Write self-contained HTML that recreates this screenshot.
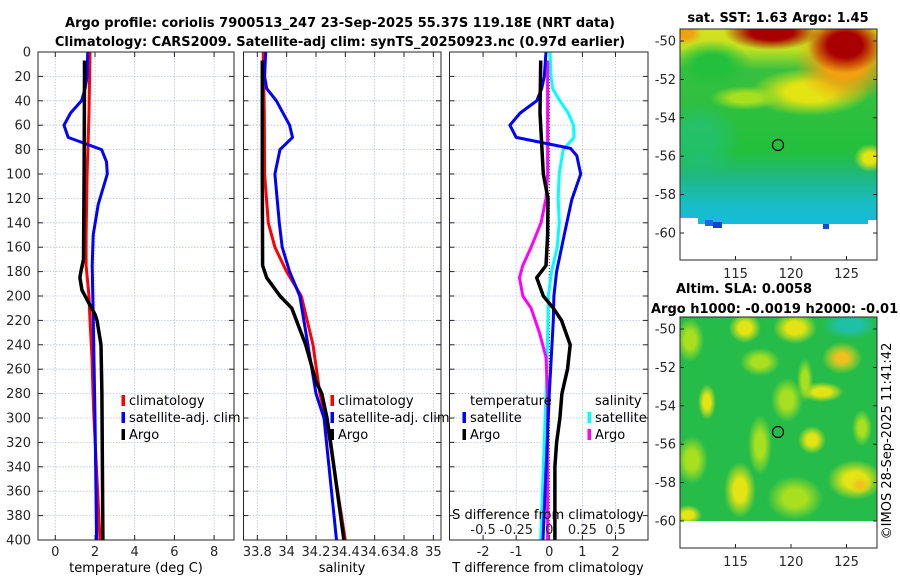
<!DOCTYPE html>
<html><head><meta charset="utf-8"><style>
body{margin:0;background:#fff;}
svg{display:block;font-family:"DejaVu Sans","Liberation Sans",sans-serif;}
.tk{font-size:13px;fill:#262626;}
.tt{font-size:13px;font-weight:bold;fill:#000;}
.lg{font-size:13px;fill:#000;}
</style></head><body>
<svg id="fig" width="900" height="580" viewBox="0 0 900 580">
<defs>
<radialGradient id="gRed"><stop offset="0.45" stop-color="#a80000"/><stop offset="1" stop-color="#a80000" stop-opacity="0"/></radialGradient>
<radialGradient id="gOr"><stop offset="0.4" stop-color="#f0a010"/><stop offset="1" stop-color="#f0a010" stop-opacity="0"/></radialGradient>
<radialGradient id="gYel"><stop offset="0.4" stop-color="#e4e414"/><stop offset="1" stop-color="#e4e414" stop-opacity="0"/></radialGradient>
<radialGradient id="gYG"><stop offset="0.4" stop-color="#a8e020"/><stop offset="1" stop-color="#a8e020" stop-opacity="0"/></radialGradient>
<radialGradient id="gTeal"><stop offset="0.4" stop-color="#20c0a8"/><stop offset="1" stop-color="#20c0a8" stop-opacity="0"/></radialGradient>
<radialGradient id="gGreen"><stop offset="0.4" stop-color="#22c03c"/><stop offset="1" stop-color="#22c03c" stop-opacity="0"/></radialGradient>
<radialGradient id="gOrY"><stop offset="0.3" stop-color="#f0c020"/><stop offset="1" stop-color="#e8e010" stop-opacity="0"/></radialGradient>
<linearGradient id="sstBase" x1="0" y1="0" x2="0" y2="1">
<stop offset="0" stop-color="#d8e020"/><stop offset="0.1" stop-color="#c0e020"/><stop offset="0.2" stop-color="#38c040"/>
<stop offset="0.6" stop-color="#22c03c"/><stop offset="0.72" stop-color="#20b880"/><stop offset="0.86" stop-color="#18bcc8"/><stop offset="1" stop-color="#14bce0"/>
</linearGradient>
<clipPath id="cp1"><rect x="38" y="52" width="196" height="488"/></clipPath>
<clipPath id="cp2"><rect x="243.5" y="52" width="197.5" height="488"/></clipPath>
<clipPath id="cp3"><rect x="449.5" y="52" width="198.5" height="488"/></clipPath>
<clipPath id="cm1"><rect x="680" y="29" width="197" height="205"/></clipPath>
<clipPath id="cm2"><rect x="680" y="317" width="197" height="204"/></clipPath>
</defs>
<text class="tt" x="340" y="27" text-anchor="middle">Argo profile: coriolis 7900513_247 23-Sep-2025 55.37S 119.18E (NRT data)</text>
<text class="tt" x="340" y="46" text-anchor="middle">Climatology: CARS2009. Satellite-adj clim: synTS_20250923.nc (0.97d earlier)</text>

<g>
<text class="tt" x="778" y="22" text-anchor="middle">sat. SST: 1.63 Argo: 1.45</text>
<g clip-path="url(#cm1)">
<rect x="680" y="29" width="197" height="205" fill="url(#sstBase)"/>
<ellipse cx="712" cy="65" rx="40" ry="25" fill="url(#gGreen)"/>
<ellipse cx="700" cy="140" rx="40" ry="40" fill="url(#gTeal)" opacity="0.4"/>
<ellipse cx="810" cy="92" rx="60" ry="24" fill="url(#gYel)"/>
<ellipse cx="745" cy="98" rx="35" ry="12" fill="url(#gYG)"/>
<ellipse cx="870" cy="158" rx="16" ry="14" fill="url(#gYel)"/>
<ellipse cx="845" cy="62" rx="50" ry="42" fill="url(#gOr)"/>
<ellipse cx="772" cy="32" rx="48" ry="18" fill="url(#gRed)"/>
<ellipse cx="845" cy="45" rx="38" ry="28" fill="url(#gRed)"/>
<ellipse cx="686" cy="33" rx="16" ry="12" fill="url(#gOr)"/>
<rect x="680" y="224" width="197" height="10" fill="#fff"/>
<rect x="680" y="218" width="18" height="6" fill="#fff"/>
<rect x="705" y="220" width="8" height="6" fill="#1070e0"/>
<rect x="713" y="222" width="9" height="6" fill="#0848d0"/>
<rect x="823" y="224" width="6" height="5" fill="#1050d8"/>
<rect x="868" y="220" width="9" height="6" fill="#fff"/>
<circle cx="778" cy="145" r="5.5" fill="none" stroke="#000" stroke-width="1.2"/>
</g>
<rect x="680" y="29" width="197" height="231" fill="none" stroke="#262626" stroke-width="1"/>
<g id="m1ax"></g>
</g>

<g>
<text class="tt" x="744" y="293" text-anchor="middle">Altim. SLA: 0.0058</text>
<text class="tt" x="651" y="313">Argo h1000: -0.0019 h2000: -0.01</text>
<g clip-path="url(#cm2)">
<rect x="680" y="317" width="197" height="204" fill="#26bc4a"/>
<ellipse cx="690" cy="340" rx="14" ry="22" fill="url(#gYG)"/>
<ellipse cx="745" cy="328" rx="16" ry="15" fill="url(#gYel)"/>
<ellipse cx="795" cy="328" rx="22" ry="16" fill="url(#gYel)"/>
<ellipse cx="850" cy="325" rx="28" ry="14" fill="url(#gTeal)"/>
<ellipse cx="842" cy="358" rx="20" ry="16" fill="url(#gOrY)"/>
<ellipse cx="822" cy="392" rx="22" ry="10" fill="url(#gYel)"/>
<ellipse cx="787" cy="400" rx="16" ry="22" fill="url(#gYG)"/>
<ellipse cx="805" cy="380" rx="8" ry="22" fill="url(#gYG)"/>
<ellipse cx="707" cy="402" rx="9" ry="18" fill="url(#gYel)"/>
<ellipse cx="812" cy="440" rx="14" ry="14" fill="url(#gYel)"/>
<ellipse cx="692" cy="460" rx="16" ry="24" fill="url(#gYG)"/>
<ellipse cx="740" cy="490" rx="16" ry="28" fill="url(#gYel)"/>
<ellipse cx="795" cy="498" rx="28" ry="22" fill="url(#gYG)"/>
<ellipse cx="855" cy="480" rx="28" ry="20" fill="url(#gYel)"/>
<ellipse cx="860" cy="485" rx="12" ry="9" fill="url(#gOrY)"/>
<ellipse cx="760" cy="445" rx="12" ry="30" fill="url(#gYG)"/>
<ellipse cx="862" cy="428" rx="10" ry="18" fill="url(#gYG)"/>
<ellipse cx="688" cy="515" rx="14" ry="10" fill="url(#gYel)"/>
<ellipse cx="760" cy="362" rx="20" ry="14" fill="url(#gYG)"/>
<circle cx="778" cy="432" r="5.5" fill="none" stroke="#000" stroke-width="1.2"/>
</g>
<rect x="680" y="317" width="197" height="231" fill="none" stroke="#262626" stroke-width="1"/>
<g id="m2ax"></g>
</g>
<text class="lg" x="0" y="0" transform="translate(891,441) rotate(-90)" text-anchor="middle">©IMOS 28-Sep-2025 11:41:42</text>

<g id="panels"></g>
</svg>
<script>
const depthTicks=[0,20,40,60,80,100,120,140,160,180,200,220,240,260,280,300,320,340,360,380,400];
const tempTicks=[0,2,4,6,8];
const salTicks=[33.8,34,34.2,34.4,34.6,34.8,35];
const salTickLabels=["33.8","34","34.2","34.4","34.6","34.8","35"];
const dtTicks=[-2,-1,0,1,2];
const dsTicks=[-0.5,-0.25,0,0.25,0.5];
const latTicks=[-50,-52,-54,-56,-58,-60];
const lonTicks=[115,120,125];

const climTDepth=[0,50,100,150,175,200,220,250,280,300,350,400];
const climT=[1.75,1.7,1.6,1.55,1.55,1.7,1.75,1.85,1.9,1.95,2.1,2.25];
const satTDepth=[0,20,30,40,50,60,70,75,80,90,100,125,150,175,200,280,300,400];
const satT=[1.63,1.6,1.5,1.32,0.77,0.44,0.65,1.49,2.33,2.58,2.62,2.16,1.91,1.86,1.89,1.98,2.0,2.08];
const argoTDepth=[7,20,100,170,180,185,195,205,215,220,240,280,400];
const argoT=[1.47,1.47,1.45,1.42,1.29,1.24,1.34,1.66,2.0,2.1,2.3,2.35,2.4];

const climSDepth=[0,50,100,140,160,180,200,240,280,300,400];
const climS=[33.84,33.848,33.85,33.875,33.92,34.0,34.10,34.18,34.227,34.27,34.40];
const satSDepth=[0,20,30,40,60,70,80,100,140,160,180,200,280,300,400];
const satS=[33.857,33.85,33.864,33.93,34.02,34.04,33.955,33.92,33.95,33.97,34.02,34.09,34.20,34.255,34.34];
const argoSDepth=[7,100,175,185,200,210,240,270,280,300,320,400];
const argoS=[33.834,33.834,33.836,33.864,33.955,34.035,34.13,34.2,34.24,34.275,34.3,34.39];

const satDTDepth=[0,20,30,40,50,60,70,79,85,100,121,150,180,200,220,280,400];
const satDT=[-0.1,-0.15,-0.23,-0.38,-0.88,-1.19,-1.0,0.64,0.83,0.95,0.68,0.45,0.22,0.14,0.12,0,-0.19];
const argoDTDepth=[7,50,100,120,150,175,185,200,210,220,240,260,280,300,320,340,400];
const argoDT=[-0.26,-0.28,-0.18,-0.04,-0.05,-0.1,-0.38,-0.18,0.12,0.37,0.63,0.55,0.38,0.32,0.22,0.17,0.17];
const satDSDepth=[0,20,30,40,50,60,70,80,100,120,140,150,160,180,200,220,280,400];
const satDS=[0.005,0.0125,0.025,0.08,0.1425,0.1825,0.1875,0.105,0.075,0.0675,0.075,0.0675,0.06,0.0175,-0.0075,-0.01,-0.025,-0.065];
const argoDSDepth=[7,100,120,140,150,160,175,185,200,210,230,250,280,400];
const argoDS=[-0.0125,-0.0125,-0.025,-0.0625,-0.1,-0.1375,-0.2,-0.225,-0.2,-0.1375,-0.075,-0.025,-0.0125,-0.0125];

const NS="http://www.w3.org/2000/svg";
const yD=d=>52+d*1.22;
const xT=t=>55.3+t*19.85;
const xS=s=>257.3+(s-33.8)*146.7;
const xDT=v=>549.3+v*33.1;
const xDS=v=>549.3+v*4*33.1;
const mLon=l=>680+(l-110)*11.1;
const m1Lat=a=>41+(-50-a)*19.2;
const m2Lat=a=>329+(-50-a)*19.2;

const root=document.getElementById('panels');
function el(tag,attrs,parent){const e=document.createElementNS(NS,tag);for(const k in attrs)e.setAttribute(k,attrs[k]);(parent||root).appendChild(e);return e;}

const panels=[{x0:38,x1:234,clip:'cp1'},{x0:243.5,x1:441,clip:'cp2'},{x0:449.5,x1:648,clip:'cp3'}];

panels.forEach((p,i)=>{
  const g=el('g',{});
  
  
  depthTicks.forEach(d=>{
    const l=el('line',{x1:p.x0,x2:p.x1,y1:yD(d),y2:yD(d),stroke:'#b8c0e0','stroke-width':0.8,'stroke-dasharray':'1.5,1.5'},g);
    
    
    el('line',{x1:p.x0,x2:p.x0+5,y1:yD(d),y2:yD(d),stroke:'#262626','stroke-width':1},g);
    el('line',{x1:p.x1-5,x2:p.x1,y1:yD(d),y2:yD(d),stroke:'#262626','stroke-width':1},g);
  });
  p.g=g;
});
depthTicks.forEach(d=>{
  const t=el('text',{x:31,y:yD(d)+4.5,'text-anchor':'end',class:'tk'});
  t.textContent=d;
  
  
});
function xgrid(g,ticks,fx,labels,p,ly){
  ticks.forEach((v,j)=>{
    const x=fx(v);
    el('line',{x1:x,x2:x,y1:52,y2:540,stroke:'#b8c0e0','stroke-width':0.8,'stroke-dasharray':'1.5,1.5'},g);
    el('line',{x1:x,x2:x,y1:535,y2:540,stroke:'#262626','stroke-width':1},g);
    el('line',{x1:x,x2:x,y1:52,y2:57,stroke:'#262626','stroke-width':1},g);
    const t=el('text',{x:x,y:ly,'text-anchor':'middle',class:'tk'});
    t.textContent=labels?labels[j]:v;
    
    
  });
}
xgrid(panels[0].g,tempTicks,xT,null,panels[0],556);
xgrid(panels[1].g,salTicks,xS,salTickLabels,panels[1],556);
xgrid(panels[2].g,dtTicks,xDT,null,panels[2],556);

const zl=el('line',{x1:xDT(0),x2:xDT(0),y1:52,y2:540,stroke:'#333','stroke-width':1,'stroke-dasharray':'1,2'});



function series(clip,depths,vals,fx,color,w,name){
  const pts=depths.map((d,i)=>fx(vals[i]).toFixed(1)+','+yD(d).toFixed(1)).join(' ');
  const pl=el('polyline',{points:pts,fill:'none',stroke:color,'stroke-width':w,'stroke-linejoin':'round','clip-path':'url(#'+clip+')'});
  
  
}
series('cp1',climTDepth,climT,xT,'#ff0000',3,'temperature-climatology-line');
series('cp1',satTDepth,satT,xT,'#0000ff',3,'temperature-satellite-line');
series('cp1',argoTDepth,argoT,xT,'#000000',3.5,'temperature-argo-line');
series('cp2',climSDepth,climS,xS,'#ff0000',3,'salinity-climatology-line');
series('cp2',satSDepth,satS,xS,'#0000ff',3,'salinity-satellite-line');
series('cp2',argoSDepth,argoS,xS,'#000000',3.5,'salinity-argo-line');
series('cp3',satDSDepth,satDS,xDS,'#00ffff',3,'salinity-diff-satellite-line');
series('cp3',argoDSDepth,argoDS,xDS,'#ff00ff',3,'salinity-diff-argo-line');
series('cp3',satDTDepth,satDT,xDT,'#0000ff',3,'temperature-diff-satellite-line');
series('cp3',argoDTDepth,argoDT,xDT,'#000000',3.5,'temperature-diff-argo-line');

panels.forEach(p=>{
  el('rect',{x:p.x0,y:52,width:p.x1-p.x0,height:488,fill:'none',stroke:'#262626','stroke-width':1});
});

dsTicks.forEach(v=>{
  const t=el('text',{x:xDS(v),y:534,'text-anchor':'middle',class:'tk'});
  t.textContent=String(v);
  
  
});
function txt(x,y,s,name,anchor,cls){
  const t=el('text',{x:x,y:y,'text-anchor':anchor||'start',class:cls||'lg'});
  t.textContent=s;
  
  
  return t;
}
txt(548,519,'S difference from climatology','s-diff-axis-title','middle');
txt(136,572,'temperature (deg C)','x-axis-title-temperature','middle');
txt(342,572,'salinity','x-axis-title-salinity','middle');
txt(548,572,'T difference from climatology','x-axis-title-tdiff','middle');

function legend(x,y,color,label,name){
  const r=el('rect',{x:x-1.5,y:y-10,width:3.5,height:11,fill:color});
  
  
  txt(x+6,y,label,name);
}
legend(123,405,'#ff0000','climatology','legend-climatology');
legend(123,422,'#0000ff','satellite-adj. clim','legend-satellite-adj');
legend(123,439,'#000000','Argo','legend-argo');
legend(332,405,'#ff0000','climatology','legend-sal-climatology');
legend(332,422,'#0000ff','satellite-adj. clim','legend-sal-satellite-adj');
legend(332,439,'#000000','Argo','legend-sal-argo');
txt(470,405,'temperature','legend-temperature-heading');
txt(595,405,'salinity','legend-salinity-heading');
legend(464,422,'#0000ff','satellite','legend-tdiff-satellite');
legend(464,439,'#000000','Argo','legend-tdiff-argo');
legend(589,422,'#00ffff','satellite','legend-sdiff-satellite');
legend(589,439,'#ff00ff','Argo','legend-sdiff-argo');

function mapAxes(gid,fLat,yb,yl){
  const g=document.getElementById(gid);
  latTicks.forEach(a=>{
    const y=fLat(a);
    const t=el('text',{x:676,y:y+4.5,'text-anchor':'end',class:'tk'},g);
    t.textContent=a;
    
    
    el('line',{x1:680,x2:684,y1:y,y2:y,stroke:'#262626'},g);
    el('line',{x1:873,x2:877,y1:y,y2:y,stroke:'#262626'},g);
  });
  lonTicks.forEach(l=>{
    const x=mLon(l);
    const t=el('text',{x:x,y:yl,'text-anchor':'middle',class:'tk'},g);
    t.textContent=l;
    
    
    el('line',{x1:x,x2:x,y1:yb-4,y2:yb,stroke:'#262626'},g);
  });
}
mapAxes('m1ax',m1Lat,260,278);
mapAxes('m2ax',m2Lat,548,566);
</script>
</body></html>
